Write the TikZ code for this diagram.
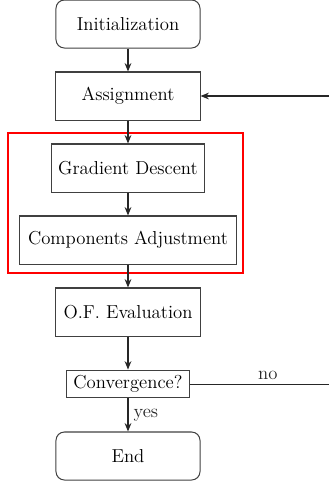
\documentclass[tikz,border=0pt]{standalone}
\usetikzlibrary{arrows.meta}
\begin{document}
\begin{tikzpicture}[x=0.020833cm,y=-0.020833cm,
  txt/.style={font=\fontsize{11.1}{13}\selectfont},
  box/.style={draw=black!75,line width=0.6pt,inner sep=0pt,txt},
  rbox/.style={box,rounded corners=5pt},
  arr/.style={-{Stealth[length=5pt,width=4pt]},line width=0.6pt,black!85},
  ln/.style={line width=0.6pt,black!85}]
\useasboundingbox (0,0) rectangle (329,485);
\node[rbox,minimum width=3cm,minimum height=1cm] (init) at (128,24) {Initialization};
\node[box,minimum width=3cm,minimum height=1cm] (assign) at (128,96) {Assignment};
\node[box,minimum width=3.2cm,minimum height=1cm] (grad) at (128,168) {Gradient Descent};
\node[box,minimum width=4.5cm,minimum height=1cm] (comp) at (128,240) {Components Adjustment};
\node[box,minimum width=2.58cm,minimum height=0.58cm] (conv) at (128,384) {Convergence?};
\node[box,minimum width=3cm,minimum height=1cm] (of) at (128,312) {O.F. Evaluation};
\node[rbox,minimum width=3cm,minimum height=1cm] (end) at (128,456) {End};
\draw[red,line width=1.6pt] (8,133) rectangle (243,273);
\coordinate (rA) at (335,96);
\coordinate (rC) at (335,384);
\draw[arr] (init) -- (assign);
\draw[arr] (assign) -- (grad);
\draw[arr] (grad) -- (comp);
\draw[arr] (comp) -- (of);
\draw[arr] (of) -- (conv);
\draw[arr] (conv) -- node[right,txt,inner sep=3pt] {yes} (end);
\draw[ln] (conv) -- node[above,txt,pos=0.5,inner sep=2pt,xshift=3pt] {no} (rC);
\draw[arr] (rA) -- (assign);
\end{tikzpicture}
\end{document}
